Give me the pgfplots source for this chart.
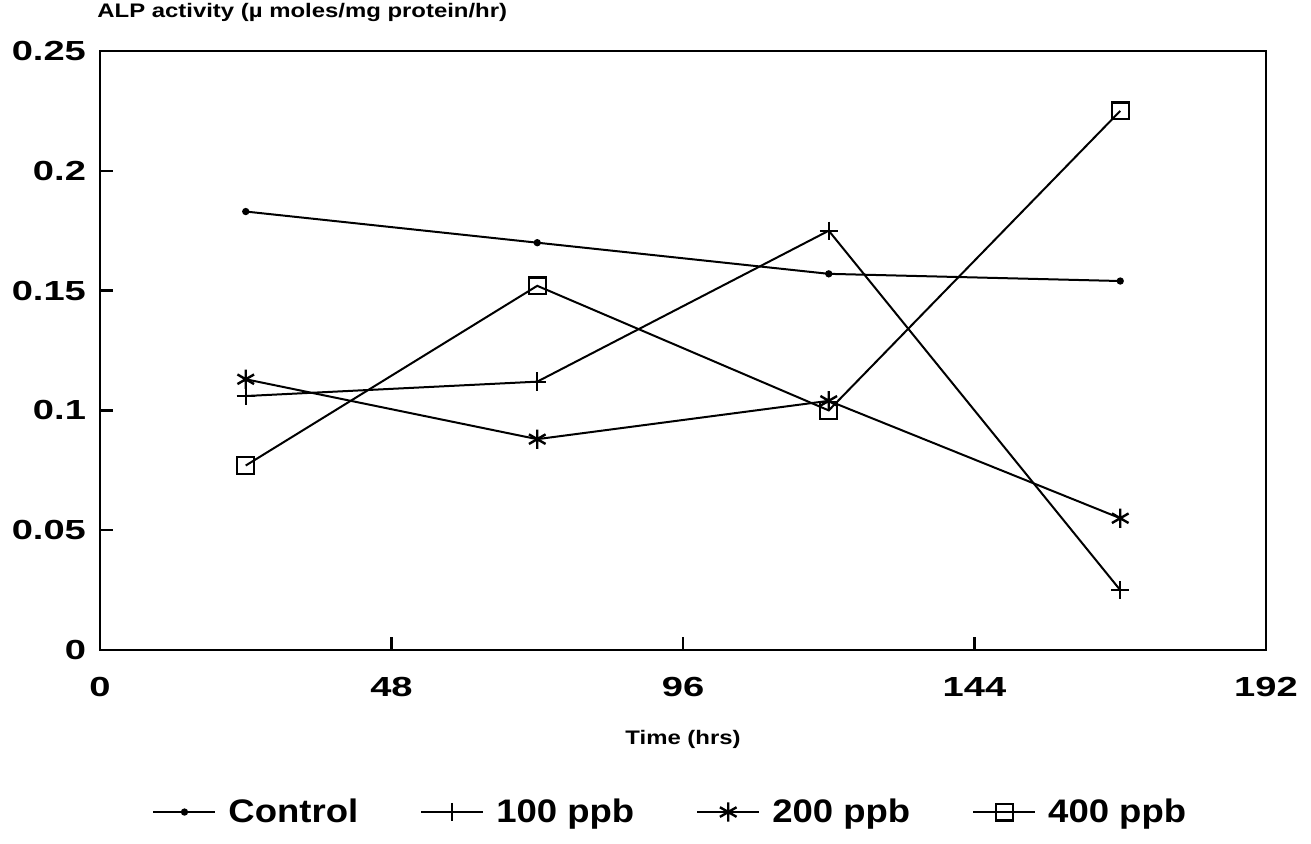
\documentclass[border=0pt]{standalone}
\usepackage{fontspec}
\setmainfont{Liberation Sans}
\newfontfamily\tickf[FakeStretch=1.38]{Liberation Sans}
\newfontfamily\legf[FakeStretch=1.12]{Liberation Sans}
\newfontfamily\labf[FakeStretch=1.22]{Liberation Sans}
\usepackage{pgfplots}
\pgfplotsset{compat=1.18}

\begin{document}
\begin{tikzpicture}
% page = reference frame, 1 px = 0.5pt, origin at the lower left of the plot area
\useasboundingbox (-50pt,-96.5pt) rectangle (605.5pt,325pt);
\begin{axis}[
    scale only axis,
    width=583pt, height=299.5pt,
    xmin=0, xmax=192,
    ymin=0, ymax=0.25,
    xtick={0,48,96,144,192},
    ytick={0,0.05,0.1,0.15,0.2,0.25},
    yticklabels={0,0.05,0.1,0.15,0.2,0.25},
    scaled y ticks=false,
    tick align=inside,
    tick pos=left,
    major tick length=6.5pt,
    axis line style={line width=1.4pt},
    tick style={line width=1.2pt, black},
    /pgf/number format/assume math mode=true,
    ticklabel style={font=\tickf\bfseries\fontsize{13.8}{15}\selectfont},
    xticklabel style={yshift=-10pt},
    yticklabel style={xshift=-3.5pt},
    title={ALP activity (µ moles/mg protein/hr)},
    title style={font=\labf\bfseries\fontsize{9.8}{11}\selectfont,
        at={(0,1)}, anchor=base west, yshift=11pt, xshift=-1.5pt, inner sep=0pt},
    xlabel={Time (hrs)},
    xlabel style={font=\labf\bfseries\fontsize{9.8}{11}\selectfont,
        at={(0.5,0)}, anchor=base, yshift=-47pt, inner sep=0pt},
    legend columns=4,
    legend style={at={(0.49,-0.2705)}, anchor=center, draw=none,
        font=\legf\bfseries\fontsize{16.3}{18}\selectfont,
        /tikz/every odd column/.append style={column sep=4pt},
        /tikz/every even column/.append style={column sep=29pt}},
    legend image code/.code={
        \draw[mark repeat=2, mark phase=2] plot coordinates {(0pt,0pt) (15.5pt,0pt) (31pt,0pt)};},
    every axis plot/.append style={black, line width=1pt},
]
\addplot[mark=*, mark size=1.3pt] coordinates {
    (24,0.183) (72,0.170) (120,0.157) (168,0.154)
};
\addlegendentry{Control}
\addplot[mark=+, mark size=4.6pt, mark options={line width=1.1pt}] coordinates {
    (24,0.106) (72,0.112) (120,0.175) (168,0.025)
};
\addlegendentry{100 ppb}
\addplot[mark=asterisk, mark size=4.8pt, mark options={line width=1.2pt}] coordinates {
    (24,0.113) (72,0.088) (120,0.104) (168,0.055)
};
\addlegendentry{200 ppb}
\addplot[mark=square, mark size=4.2pt, mark options={line width=1.1pt, fill=white}] coordinates {
    (24,0.077) (72,0.152) (120,0.100) (168,0.225)
};
\addlegendentry{400 ppb}
\end{axis}
\end{tikzpicture}
\end{document}
